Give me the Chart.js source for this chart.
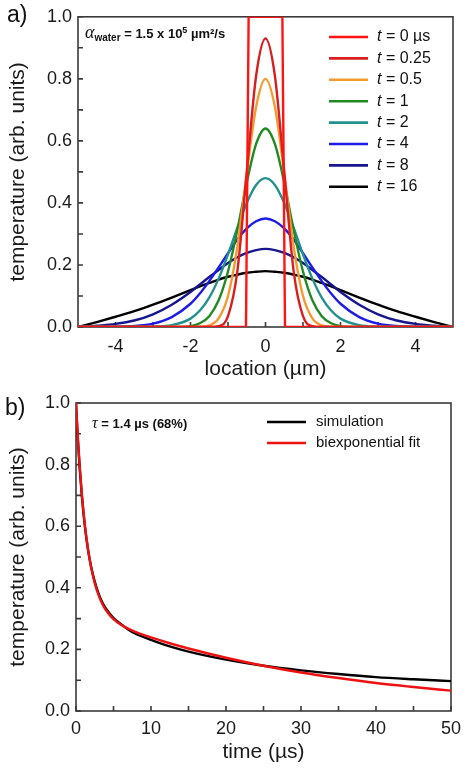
<!DOCTYPE html>
<html>
<head>
<meta charset="utf-8">
<script src="https://cdn.jsdelivr.net/npm/chart.js@4.4.1/dist/chart.umd.min.js"></script>
<style>
  html, body { margin: 0; padding: 0; background: #fff; }
  canvas { display: block; }
</style>
</head>
<body>
<canvas id="profileChart" width="468" height="384"></canvas>
<canvas id="decayChart" width="468" height="384"></canvas>
<script>
// ---- a) temperature profiles across the heated region ----
const location_um = [-5, -4.5, -4, -3.5, -3, -2.5, -2, -1.75, -1.5, -1.25, -1, -0.75, -0.5, -0.25, 0,
                     0.25, 0.5, 0.75, 1, 1.25, 1.5, 1.75, 2, 2.5, 3, 3.5, 4, 4.5, 5];
const timeLabels = ['0 µs', '0.25', '0.5', '1', '2', '4', '8', '16'];

// t = 0 is the initial square pulse
const pulseX = [-5, -0.52, -0.45, 0.45, 0.52, 5];
const pulseY = [0, 0, 1, 1, 0, 0];

const temp_t025 = [0, 0, 0, 0, 0, 0, 0, 0, 0, 0.003, 0.035, 0.18, 0.50, 0.81, 0.93,
                   0.81, 0.50, 0.18, 0.035, 0.003, 0, 0, 0, 0, 0, 0, 0, 0, 0];
const temp_t05 = [0, 0, 0, 0, 0, 0, 0, 0.001, 0.005, 0.028, 0.10, 0.26, 0.495, 0.71, 0.80,
                  0.71, 0.495, 0.26, 0.10, 0.028, 0.005, 0.001, 0, 0, 0, 0, 0, 0, 0];
const temp_t1 = [0, 0, 0, 0, 0, 0, 0.003, 0.012, 0.035, 0.086, 0.179, 0.313, 0.465, 0.59, 0.64,
                 0.59, 0.465, 0.313, 0.179, 0.086, 0.035, 0.012, 0.003, 0, 0, 0, 0, 0, 0];
const temp_t2 = [0, 0, 0, 0, 0.001, 0.006, 0.027, 0.053, 0.095, 0.156, 0.234, 0.320, 0.400, 0.458, 0.48,
                 0.458, 0.400, 0.320, 0.234, 0.156, 0.095, 0.053, 0.027, 0.006, 0.001, 0, 0, 0, 0];
const temp_t4 = [0, 0, 0.001, 0.003, 0.011, 0.032, 0.075, 0.108, 0.148, 0.192, 0.238, 0.282, 0.318, 0.341, 0.35,
                 0.341, 0.318, 0.282, 0.238, 0.192, 0.148, 0.108, 0.075, 0.032, 0.011, 0.003, 0.001, 0, 0];
const temp_t8 = [0, 0.004, 0.010, 0.021, 0.041, 0.072, 0.113, 0.137, 0.161, 0.184, 0.206, 0.225, 0.239, 0.248, 0.252,
                 0.248, 0.239, 0.225, 0.206, 0.184, 0.161, 0.137, 0.113, 0.072, 0.041, 0.021, 0.010, 0.004, 0];
const temp_t16 = [0, 0.016, 0.033, 0.051, 0.072, 0.095, 0.119, 0.131, 0.142, 0.153, 0.162, 0.169, 0.175, 0.178, 0.18,
                  0.178, 0.175, 0.169, 0.162, 0.153, 0.142, 0.131, 0.119, 0.095, 0.072, 0.051, 0.033, 0.016, 0];

const xTicksA = [-4, -2, 0, 2, 4];
const xMinorA = [-3, -1, 1, 3];
const yTicks = [0, 0.2, 0.4, 0.6, 0.8, 1.0];
const yMinor = [0.1, 0.3, 0.5, 0.7, 0.9];

// ---- b) peak temperature decay ----
const time_us = [0, 0.15, 0.3, 0.5, 0.8, 1.2, 1.6, 2, 2.5, 3, 3.5, 4, 5, 6, 7, 8, 10, 12.5, 15, 20, 25, 30, 35, 40, 45, 50];
const simulation = [1.0, 0.925, 0.86, 0.786, 0.692, 0.596, 0.524, 0.470, 0.420, 0.382, 0.353, 0.332, 0.302, 0.282, 0.264, 0.250,
                    0.231, 0.210, 0.193, 0.167, 0.147, 0.132, 0.120, 0.110, 0.103, 0.097];
const biexpFit = [1.0, 0.930, 0.867, 0.793, 0.699, 0.601, 0.526, 0.469, 0.415, 0.377, 0.348, 0.327, 0.298, 0.280, 0.267, 0.256,
                  0.239, 0.220, 0.203, 0.173, 0.147, 0.125, 0.107, 0.091, 0.078, 0.066];
const xTicksB = [0, 10, 20, 30, 40, 50];
const xMinorB = [5, 15, 25, 35, 45];

const FONT = "'Liberation Sans', Arial, sans-serif";
const SERIF = "'Liberation Serif', 'Times New Roman', serif";
Chart.defaults.font.family = FONT;
Chart.defaults.color = '#1a1a1a';

const pts = (xs, ys) => xs.map((x, i) => ({ x: x, y: ys[i] }));

// writes a row of text pieces with their own fonts, one after another
function drawRuns(ctx, x, y, runs) {
  runs.forEach(r => {
    ctx.font = r.font;
    ctx.fillText(r.text, x, y + (r.dy || 0));
    x += ctx.measureText(r.text).width + (r.gap || 0);
  });
}

// box round the plot with inward tick marks
const frame = {
  id: 'frame',
  beforeDatasetsDraw(chart, args, o) {
    const { ctx, chartArea: a } = chart;
    const x = chart.scales.x, y = chart.scales.y;
    ctx.save();
    ctx.strokeStyle = '#3a3a3a';
    ctx.lineWidth = 1.6;
    ctx.strokeRect(a.left, a.top, a.width, a.height);
    ctx.beginPath();
    o.xTicks.forEach(v => {
      const p = x.getPixelForValue(v);
      ctx.moveTo(p, a.bottom); ctx.lineTo(p, a.bottom - 5);
    });
    o.yTicks.forEach(v => {
      const p = y.getPixelForValue(v);
      ctx.moveTo(a.left, p); ctx.lineTo(a.left + 5, p);
    });
    ctx.stroke();
    ctx.restore();
  }
};

// legend inside the plot, with italic t where needed
const insideLegend = {
  id: 'insideLegend',
  afterDraw(chart, args, o) {
    const ctx = chart.ctx;
    ctx.save();
    ctx.textBaseline = 'middle';
    ctx.fillStyle = '#111';
    chart.data.datasets.forEach((ds, i) => {
      const y = o.y + i * o.step;
      ctx.strokeStyle = ds.borderColor;
      ctx.lineWidth = 2.6;
      ctx.beginPath();
      ctx.moveTo(o.x1, y); ctx.lineTo(o.x2, y);
      ctx.stroke();
      if (o.italicT) {
        drawRuns(ctx, o.tx, y, [
          { text: 't', font: 'italic ' + o.size + 'px ' + FONT },
          { text: ' = ' + ds.label, font: o.size + 'px ' + FONT }
        ]);
      } else {
        ctx.font = o.size + 'px ' + FONT;
        ctx.fillText(ds.label, o.tx, y);
      }
    });
    ctx.restore();
  }
};

// panel letter and the note in the top left corner
const notes = {
  id: 'notes',
  afterDraw(chart, args, o) {
    const ctx = chart.ctx;
    ctx.save();
    ctx.fillStyle = '#111';
    ctx.textBaseline = 'alphabetic';
    ctx.font = '23px ' + FONT;
    ctx.fillText(o.letter, o.lx, o.ly);
    drawRuns(ctx, o.nx, o.ny, o.runs);
    ctx.restore();
  }
};

new Chart(document.getElementById('profileChart').getContext('2d'), {
  type: 'line',
  data: {
    datasets: [
      { label: timeLabels[0], data: pts(pulseX, pulseY), borderColor: '#ff1414', tension: 0, cubicInterpolationMode: 'default' },
      { label: timeLabels[1], data: pts(location_um, temp_t025), borderColor: '#d81e1e' },
      { label: timeLabels[2], data: pts(location_um, temp_t05), borderColor: '#f39a30' },
      { label: timeLabels[3], data: pts(location_um, temp_t1), borderColor: '#228a22' },
      { label: timeLabels[4], data: pts(location_um, temp_t2), borderColor: '#23918f' },
      { label: timeLabels[5], data: pts(location_um, temp_t4), borderColor: '#1c1ce8' },
      { label: timeLabels[6], data: pts(location_um, temp_t8), borderColor: '#16168e' },
      { label: timeLabels[7], data: pts(location_um, temp_t16), borderColor: '#000000' }
    ]
  },
  options: {
    responsive: false,
    animation: false,
    layout: { padding: { left: 0, right: 15, top: 16, bottom: 0 } },
    elements: {
      line: { borderWidth: 2.4, cubicInterpolationMode: 'monotone' },
      point: { radius: 0 }
    },
    plugins: {
      legend: { display: false },
      tooltip: { enabled: false },
      frame: { xTicks: xTicksA.concat(xMinorA), yTicks: yTicks.concat(yMinor) },
      insideLegend: { x1: 329, x2: 368, tx: 377, y: 37, step: 21.4, size: 16, italicT: true },
      notes: {
        letter: 'a)', lx: 7, ly: 22, nx: 85, ny: 38,
        runs: [
          { text: 'α', font: 'italic 18px ' + SERIF },
          { text: 'water', font: 'bold 10px ' + FONT, dy: 3 },
          { text: ' = 1.5 x 10', font: 'bold 13px ' + FONT },
          { text: '5', font: 'bold 9px ' + FONT, dy: -5 },
          { text: ' µm²/s', font: 'bold 13px ' + FONT }
        ]
      }
    },
    scales: {
      x: {
        type: 'linear', min: -5, max: 5,
        afterBuildTicks: s => { s.ticks = xTicksA.map(v => ({ value: v })); },
        afterFit: s => { s.height = 57; },
        grid: { display: false, drawTicks: false },
        border: { display: false },
        ticks: { font: { size: 18 }, padding: 9, color: '#1a1a1a', callback: v => String(v) },
        title: { display: true, text: 'location (µm)', font: { size: 21 }, padding: { top: 0, bottom: 2 }, color: '#1a1a1a' }
      },
      y: {
        min: 0, max: 1,
        afterBuildTicks: s => { s.ticks = yTicks.map(v => ({ value: v })); },
        afterFit: s => { s.width = 78; },
        grid: { display: false, drawTicks: false },
        border: { display: false },
        ticks: { font: { size: 18 }, padding: 6, color: '#1a1a1a', callback: v => v.toFixed(1) },
        title: { display: true, text: 'temperature (arb. units)', font: { size: 21 }, padding: { top: 6, bottom: 0 }, color: '#1a1a1a' }
      }
    }
  },
  plugins: [frame, insideLegend, notes]
});

new Chart(document.getElementById('decayChart').getContext('2d'), {
  type: 'line',
  data: {
    datasets: [
      { label: 'simulation', data: pts(time_us, simulation), borderColor: '#000000', order: 1 },
      { label: 'biexponential fit', data: pts(time_us, biexpFit), borderColor: '#ee1111', order: 0 }
    ]
  },
  options: {
    responsive: false,
    animation: false,
    layout: { padding: { left: 0, right: 13, top: 19, bottom: 0 } },
    elements: {
      line: { borderWidth: 2.4, cubicInterpolationMode: 'monotone' },
      point: { radius: 0 }
    },
    plugins: {
      legend: { display: false },
      tooltip: { enabled: false },
      frame: { xTicks: xTicksB.concat(xMinorB), yTicks: yTicks.concat(yMinor) },
      insideLegend: { x1: 267, x2: 306, tx: 316, y: 38, step: 21, size: 15, italicT: false },
      notes: {
        letter: 'b)', lx: 5, ly: 31, nx: 92, ny: 44,
        runs: [
          { text: 'τ', font: 'italic 16px ' + SERIF },
          { text: ' = 1.4 µs (68%)', font: 'bold 13px ' + FONT }
        ]
      }
    },
    scales: {
      x: {
        type: 'linear', min: 0, max: 50,
        afterBuildTicks: s => { s.ticks = xTicksB.map(v => ({ value: v })); },
        afterFit: s => { s.height = 57; },
        grid: { display: false, drawTicks: false },
        border: { display: false },
        ticks: { font: { size: 18 }, padding: 7, color: '#1a1a1a', callback: v => String(v) },
        title: { display: true, text: 'time (µs)', font: { size: 21 }, padding: { top: 0, bottom: 3 }, color: '#1a1a1a' }
      },
      y: {
        min: 0, max: 1,
        afterBuildTicks: s => { s.ticks = yTicks.map(v => ({ value: v })); },
        afterFit: s => { s.width = 76; },
        grid: { display: false, drawTicks: false },
        border: { display: false },
        ticks: { font: { size: 18 }, padding: 6, color: '#1a1a1a', callback: v => v.toFixed(1) },
        title: { display: true, text: 'temperature (arb. units)', font: { size: 21 }, padding: { top: 6, bottom: 0 }, color: '#1a1a1a' }
      }
    }
  },
  plugins: [frame, insideLegend, notes]
});
</script>
</body>
</html>
